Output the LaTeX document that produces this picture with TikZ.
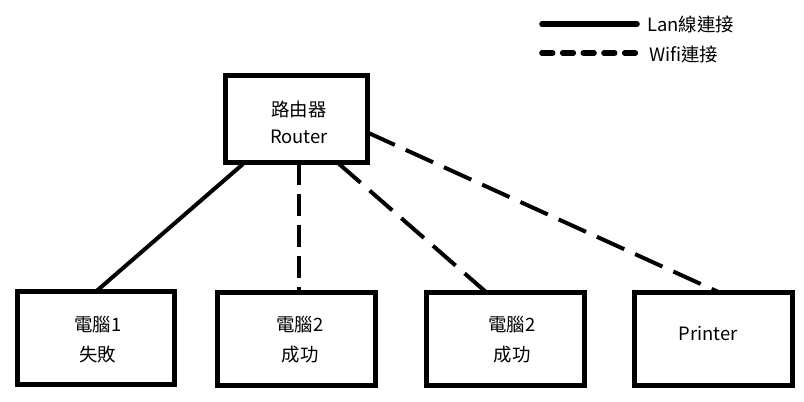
\documentclass[tikz,border=0pt]{standalone}
\usepackage{fontspec}
\setmainfont{Noto Sans CJK TC}
\usetikzlibrary{calc}
\begin{document}
\begin{tikzpicture}[x=0.75pt,y=-0.75pt,
  box/.style={draw=black,line width=3.75pt,rectangle,inner sep=0pt,outer sep=0pt,
    minimum width=118.5pt,minimum height=69.75pt,align=center},
  lbl/.style={align=center,inner sep=0pt,font=\fontsize{13.8}{22.5}\selectfont},
  wire/.style={line width=3pt,black},
  wdash/.style={wire,dash pattern=on 22.5pt off 9pt},
  vdash/.style={wire,dash pattern=on 16.5pt off 6.75pt},
  legtext/.style={anchor=west,inner sep=0pt,font=\fontsize{13.8}{15}\selectfont},
  legline/.style={line width=4.2pt,line cap=round}
]
\useasboundingbox (0,0) rectangle (804,402);
\fill[white] (0,0) rectangle (804,402);

\node[box,minimum width=106.5pt,minimum height=65.25pt] (router) at (296.5,119.5) {};
\node[lbl,font=\fontsize{13.8}{20.5}\selectfont] (rtext) at (299,122.5) {路由器\\Router};

\node[box,minimum width=117.75pt] (pc1) at (96,338) {};
\node[lbl] (t1) at (98,340) {電腦1\\失敗};
\node[box] (pc2) at (296.5,339) {};
\node[lbl] (t2) at (300,340) {電腦2\\成功};
\node[box] (pc3) at (505.5,339) {};
\node[lbl] (t3) at (512,340) {電腦2\\成功};
\node[box] (prn) at (713.5,339) {};
\node[lbl] (t4) at (708,333) {Printer};

\draw[wire] ($(router.south west)+(17.5,1)$) -- (pc1.north);
\draw[vdash] ($(router.south)+(2,0)$) -- ($(pc2.north)+(2,0)$);
\draw[wdash] ($(router.south east)+(-29.5,0)$) -- ($(pc3.north)+(-19,0)$);
\draw[wdash] ($(router.east)+(0,13)$) -- ($(prn.north)+(6,0)$);

\coordinate (la) at (542,24);
\coordinate (lb) at (637,24);
\coordinate (wa) at (542,53);
\coordinate (wb) at (637,53);
\draw[legline] (la) -- (lb);
\draw[legline,dash pattern=on 8pt off 7.5pt] (wa) -- (wb);
\node[legtext] (lt) at (647,24) {Lan線連接};
\node[legtext] (wt) at (649,54) {Wifi連接};
\end{tikzpicture}
\end{document}
